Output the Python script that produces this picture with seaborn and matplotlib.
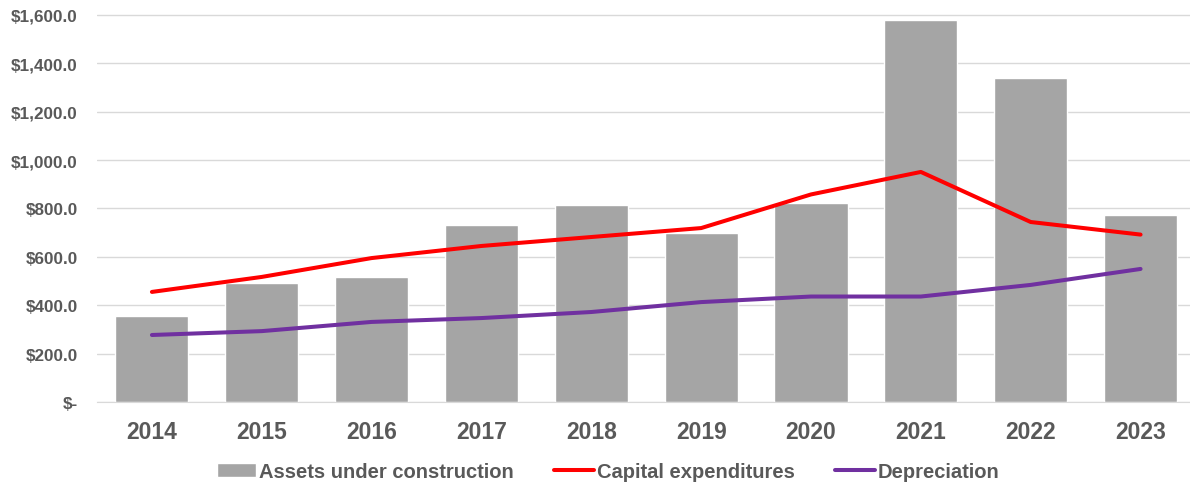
import numpy as np
import pandas as pd
import seaborn as sns
import matplotlib.pyplot as plt
from matplotlib.ticker import FuncFormatter

years = ["2014", "2015", "2016", "2017", "2018", "2019", "2020", "2021", "2022", "2023"]
assets = [355, 492, 517, 732, 814, 699, 823, 1579, 1339, 773]
capex = [455, 517, 595, 645, 682, 719, 858, 951, 744, 692]
depreciation = [277, 293, 331, 347, 372, 413, 436, 436, 484, 550]

sns.set_style("white")
plt.rcParams["font.family"] = ["Liberation Sans", "DejaVu Sans"]
plt.rcParams["font.weight"] = "bold"

df = pd.DataFrame({"Year": years, "Assets": assets, "Capex": capex, "Depreciation": depreciation})
pos = np.arange(len(years))

fig = plt.figure(figsize=(11.9, 4.85), dpi=100)
ax = fig.add_axes([97 / 1190, 82 / 485, 1 - 97 / 1190, 389 / 485])

sns.barplot(data=df, x="Year", y="Assets", color="#a5a5a5", saturation=1, width=0.665,
            ax=ax, label="Assets under construction", zorder=2)
sns.lineplot(x=pos, y=df["Capex"], color="#ff0000", linewidth=2.9, ax=ax,
             label="Capital expenditures", zorder=3)
sns.lineplot(x=pos, y=df["Depreciation"], color="#7030a0", linewidth=2.9, ax=ax,
             label="Depreciation", zorder=3)

ax.set_xlim(-0.5, 9.45)
ax.set_ylim(0, 1608)
ax.set_yticks(range(0, 1601, 200))
ax.yaxis.set_major_formatter(FuncFormatter(lambda v, p: "$-" if v == 0 else f"${v:,.1f}"))
ax.grid(axis="y", color="#d9d9d9", linewidth=1, zorder=0)
ax.set_axisbelow(True)
for s in ["top", "right", "left"]:
    ax.spines[s].set_visible(False)
ax.spines["bottom"].set_color("#d9d9d9")
ax.set_xlabel("")
ax.set_ylabel("")
ax.tick_params(axis="x", length=0, labelsize=16.5, labelcolor="#595959", pad=13)
ax.tick_params(axis="y", length=0, labelsize=12.3, labelcolor="#595959", pad=14)
for t in ax.get_xticklabels() + ax.get_yticklabels():
    t.set_fontweight("bold")

ax.get_legend().remove()
h, l = ax.get_legend_handles_labels()
order = [l.index("Assets under construction"), l.index("Capital expenditures"), l.index("Depreciation")]
fig.legend([h[i] for i in order], [l[i] for i in order], loc="center",
           bbox_to_anchor=(0.511, 0.025), ncol=3, frameon=False,
           prop={"size": 14.5, "weight": "bold"}, labelcolor="#595959",
           handlelength=1.97, handletextpad=0.15, columnspacing=2.0)

fig.savefig("out.png", dpi=100)
